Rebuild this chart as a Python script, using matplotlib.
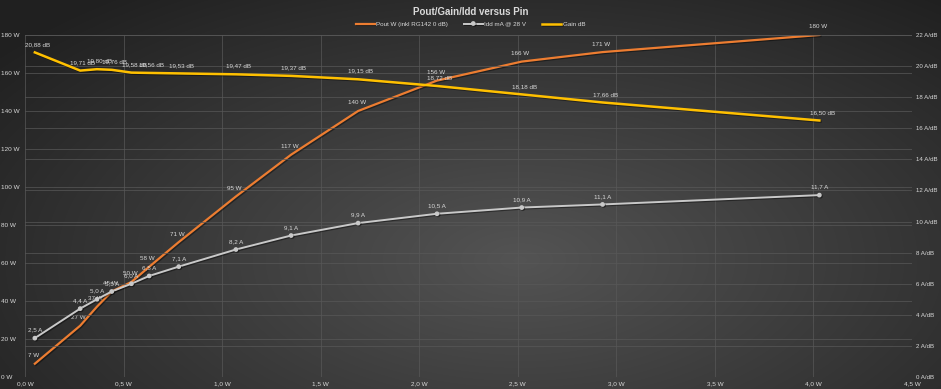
import numpy as np
import matplotlib
matplotlib.use("Agg")
import matplotlib.pyplot as plt
import matplotlib.patheffects as pe

plt.rcParams["font.family"] = ["Liberation Sans", "DejaVu Sans"]

# data
pin_w = [0.05, 0.28, 0.365, 0.44, 0.54, 0.63, 0.78, 1.07, 1.35, 1.69, 2.09, 2.52, 2.93, 4.03]
pout_w = [7, 27, 37, 45, 50, 58, 71, 95, 117, 140, 156, 166, 171, 180]
idd_a = [2.5, 4.4, 5.0, 5.5, 6.0, 6.5, 7.1, 8.2, 9.1, 9.9, 10.5, 10.9, 11.1, 11.7]
gain_db = [20.88, 19.71, 19.80, 19.76, 19.58, 19.56, 19.53, 19.47, 19.37, 19.15, 18.72, 18.18, 17.66, 16.50]

x_ticks = [0, 0.5, 1.0, 1.5, 2.0, 2.5, 3.0, 3.5, 4.0, 4.5]
left_ticks = list(range(0, 181, 20))
right_ticks = list(range(0, 23, 2))

txt = "#d9d9d9"
grid = "#585858"
orange = "#ED7D31"
grey = "#c9c9c9"
yellow = "#FFC000"

def comma(v, fmt):
    return (fmt % v).replace(".", ",")

fig = plt.figure(figsize=(9.41, 3.89), dpi=100)

# radial background gradient
bg = fig.add_axes([0, 0, 1, 1], zorder=-10)
yy, xx = np.mgrid[0:389, 0:941]
r = np.sqrt(((xx - 520) / 600.0) ** 2 + ((yy - 260) / 300.0) ** 2)
shade = np.clip(0.33 - 0.18 * r, 0.13, 0.33)
bg.imshow(shade, cmap="gray", vmin=0, vmax=1, aspect="auto", extent=[0, 1, 0, 1])
bg.axis("off")

ax = fig.add_axes([25 / 941, 1 - 377 / 389, (912 - 25) / 941, (377 - 35) / 389])
ax.set_facecolor("none")
ax2 = ax.twinx()
ax2.set_facecolor("none")

ax.set_xlim(0, 4.5)
ax.set_ylim(0, 180)
ax2.set_ylim(0, 22)

for a in (ax, ax2):
    for s in a.spines.values():
        s.set_visible(False)

ax.set_xticks(x_ticks)
ax.set_xticklabels([comma(v, "%.1f") + " W" for v in x_ticks])
ax.set_yticks(left_ticks)
ax.set_yticklabels([f"{v} W" for v in left_ticks])
ax2.set_yticks(right_ticks)
ax2.set_yticklabels([f"{v} A/dB" for v in right_ticks])

ax.tick_params(axis="x", length=0, labelsize=4.6, labelcolor=txt, pad=3)
ax.tick_params(axis="y", length=0, labelsize=4.6, labelcolor=txt, pad=17)
for lab in ax.get_yticklabels():
    lab.set_horizontalalignment("left")
ax2.tick_params(axis="y", length=0, labelsize=4.4, labelcolor=txt, pad=3)

ax.grid(True, color=grid, linewidth=0.5)
ax2.grid(True, axis="y", color=grid, linewidth=0.5)
ax.set_axisbelow(True)
ax2.set_axisbelow(True)

shadow = [pe.SimpleLineShadow(offset=(0.8, -0.8), alpha=0.4), pe.Normal()]

l1, = ax.plot(pin_w, pout_w, color=orange, linewidth=1.6, path_effects=shadow, zorder=3)
l2, = ax2.plot(pin_w, idd_a, color=grey, linewidth=1.4, marker="o", markersize=2.4,
               path_effects=shadow, zorder=3)
l3, = ax2.plot(pin_w, gain_db, color=yellow, linewidth=1.8, path_effects=shadow, zorder=3)

for x, v in zip(pin_w, pout_w):
    ax.annotate(f"{v} W", (x, v), xytext=(-1, 4), textcoords="offset points",
                ha="center", va="bottom", fontsize=4.5, color=txt)
for x, v in zip(pin_w, idd_a):
    ax2.annotate(comma(v, "%.1f") + " A", (x, v), xytext=(0, 4), textcoords="offset points",
                 ha="center", va="bottom", fontsize=4.5, color=txt)
for x, v in zip(pin_w, gain_db):
    ax2.annotate(comma(v, "%.2f") + " dB", (x, v), xytext=(2, 4), textcoords="offset points",
                 ha="center", va="bottom", fontsize=4.5, color=txt)

fig.text(0.5, 1 - 12 / 389, "Pout/Gain/Idd versus Pin", ha="center", va="center",
         fontsize=7, fontweight="bold", color=txt)
fig.legend([l1, l2, l3], ["Pout W (inkl RG142 0 dB)", "Idd mA @ 28 V", "Gain dB"],
           loc="center", bbox_to_anchor=(0.5, 1 - 24 / 389), ncol=3, frameon=False,
           fontsize=4.5, labelcolor=txt, handlelength=3, handletextpad=0.3, columnspacing=2.5)

fig.savefig("out.png", dpi=100)
